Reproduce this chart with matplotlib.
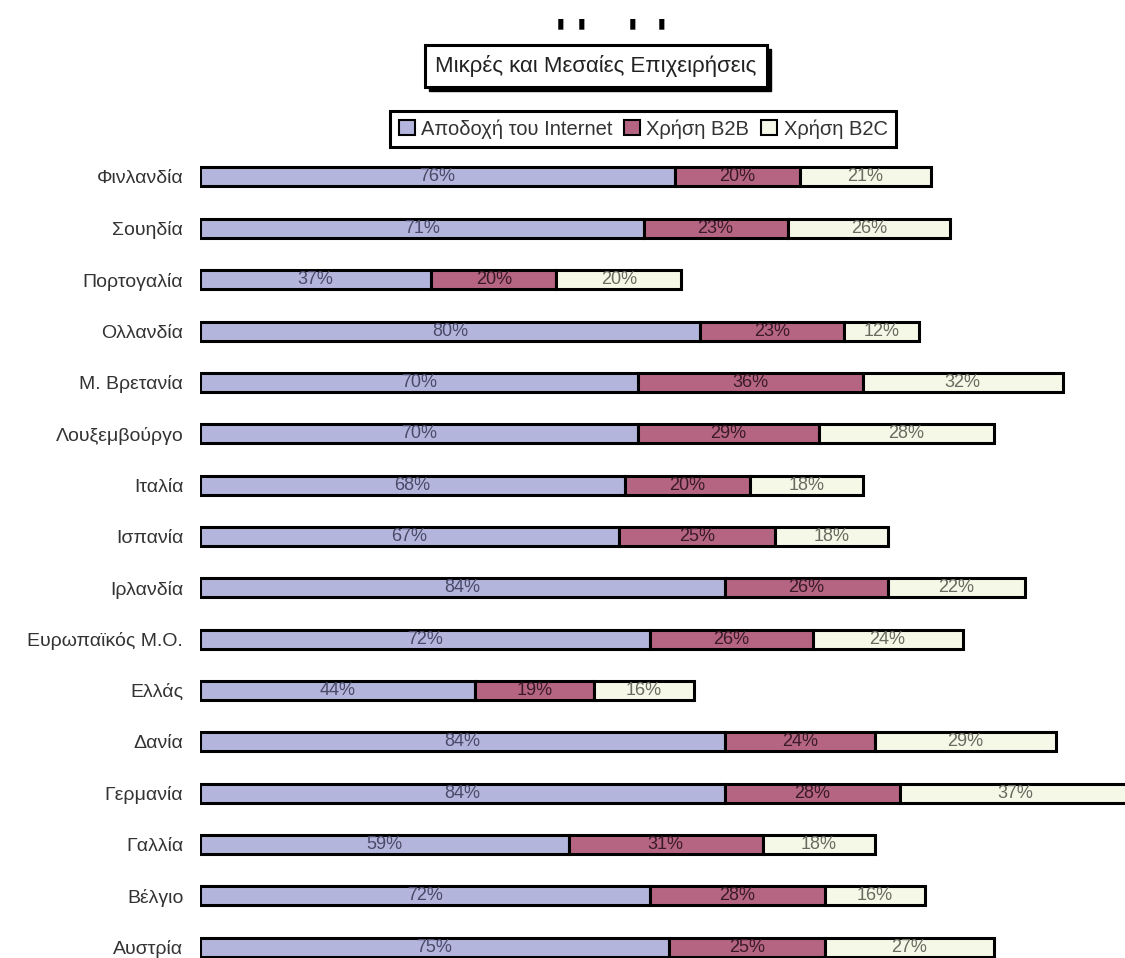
import matplotlib
matplotlib.use("Agg")
import matplotlib.pyplot as plt
from matplotlib.patches import Patch, Rectangle

countries = ["Φινλανδία", "Σουηδία", "Πορτογαλία", "Ολλανδία", "Μ. Βρετανία",
             "Λουξεμβούργο", "Ιταλία", "Ισπανία", "Ιρλανδία", "Ευρωπαϊκός Μ.Ο.",
             "Ελλάς", "Δανία", "Γερμανία", "Γαλλία", "Βέλγιο", "Αυστρία"]
internet = [76, 71, 37, 80, 70, 70, 68, 67, 84, 72, 44, 84, 84, 59, 72, 75]
b2b = [20, 23, 20, 23, 36, 29, 20, 25, 26, 26, 19, 24, 28, 31, 28, 25]
b2c = [21, 26, 20, 12, 32, 28, 18, 18, 22, 24, 16, 29, 37, 18, 16, 27]
series_names = ["Αποδοχή του Internet", "Χρήση B2B", "Χρήση B2C"]
title = "Μικρές και Μεσαίες Επιχειρήσεις"

colors = ["#B3B5DC", "#B56582", "#F5F8E6"]
text_colors = ["#4A4A68", "#3A1A28", "#6A6A60"]
FONT = ["Liberation Sans", "DejaVu Sans"]

W, H = 1125, 958
fig = plt.figure(figsize=(W / 100, H / 100), dpi=100)
ax = fig.add_axes([200 / W, 0, 925 / W, 807 / H])

ypos = list(range(len(countries)))
lefts = [0] * len(countries)
for vals, col, tcol in zip([internet, b2b, b2c], colors, text_colors):
    bars = ax.barh(ypos, vals, left=lefts, height=0.37, color=col,
                   edgecolor="black", linewidth=2.2, clip_on=True)
    for bar, v in zip(bars, vals):
        cx = bar.get_x() + bar.get_width() / 2
        cy = bar.get_y() + bar.get_height() / 2
        ax.text(cx, cy, f"{v}%", ha="center", va="center", fontsize=13,
                color=tcol, family=FONT, clip_on=True)
    lefts = [l + v for l, v in zip(lefts, vals)]

ax.set_xlim(0, 148)
ax.set_ylim(15.21, -0.506)
ax.set_yticks(ypos)
ax.set_yticklabels(countries, fontsize=14, color="#333333", family=FONT)
ax.tick_params(axis="y", length=0, pad=12)
ax.tick_params(axis="x", bottom=False, labelbottom=False)
for s in ax.spines.values():
    s.set_visible(False)

# small marks above the title box
for px in [561, 582, 633, 662]:
    fig.text(px / W, 1 - 23 / H, "▮", ha="center", va="center",
             fontsize=10, color="black")

# title box with a drop shadow drawn behind it
tx, ty = 596 / W, 1 - 66 / H
title_text = fig.text(tx, ty, title, ha="center", va="center", fontsize=16,
                      family=FONT, color="#222222", zorder=5,
                      bbox=dict(boxstyle="square,pad=0.45", facecolor="white",
                                edgecolor="black", linewidth=2.2))

handles = [Patch(facecolor=c, edgecolor="black", linewidth=1.5) for c in colors]
leg = fig.legend(handles, series_names, loc="center",
                 bbox_to_anchor=(643 / W, 1 - 129 / H), ncol=3,
                 frameon=True, fancybox=False, edgecolor="black",
                 framealpha=1.0,
                 handlelength=0.8, handleheight=0.8, handletextpad=0.3,
                 columnspacing=0.6, borderpad=0.4,
                 prop={"family": FONT, "size": 14.5})
leg.get_frame().set_linewidth(2.2)
for t in leg.get_texts():
    t.set_color("#333333")

fig.canvas.draw()
renderer = fig.canvas.get_renderer()
bb = title_text.get_bbox_patch().get_window_extent(renderer)
shadow = Rectangle((bb.x0 + 4, bb.y0 - 4), bb.width, bb.height,
                   transform=None, facecolor="black", edgecolor="black",
                   zorder=4)
fig.add_artist(shadow)

fig.savefig("out.png", dpi=100)
